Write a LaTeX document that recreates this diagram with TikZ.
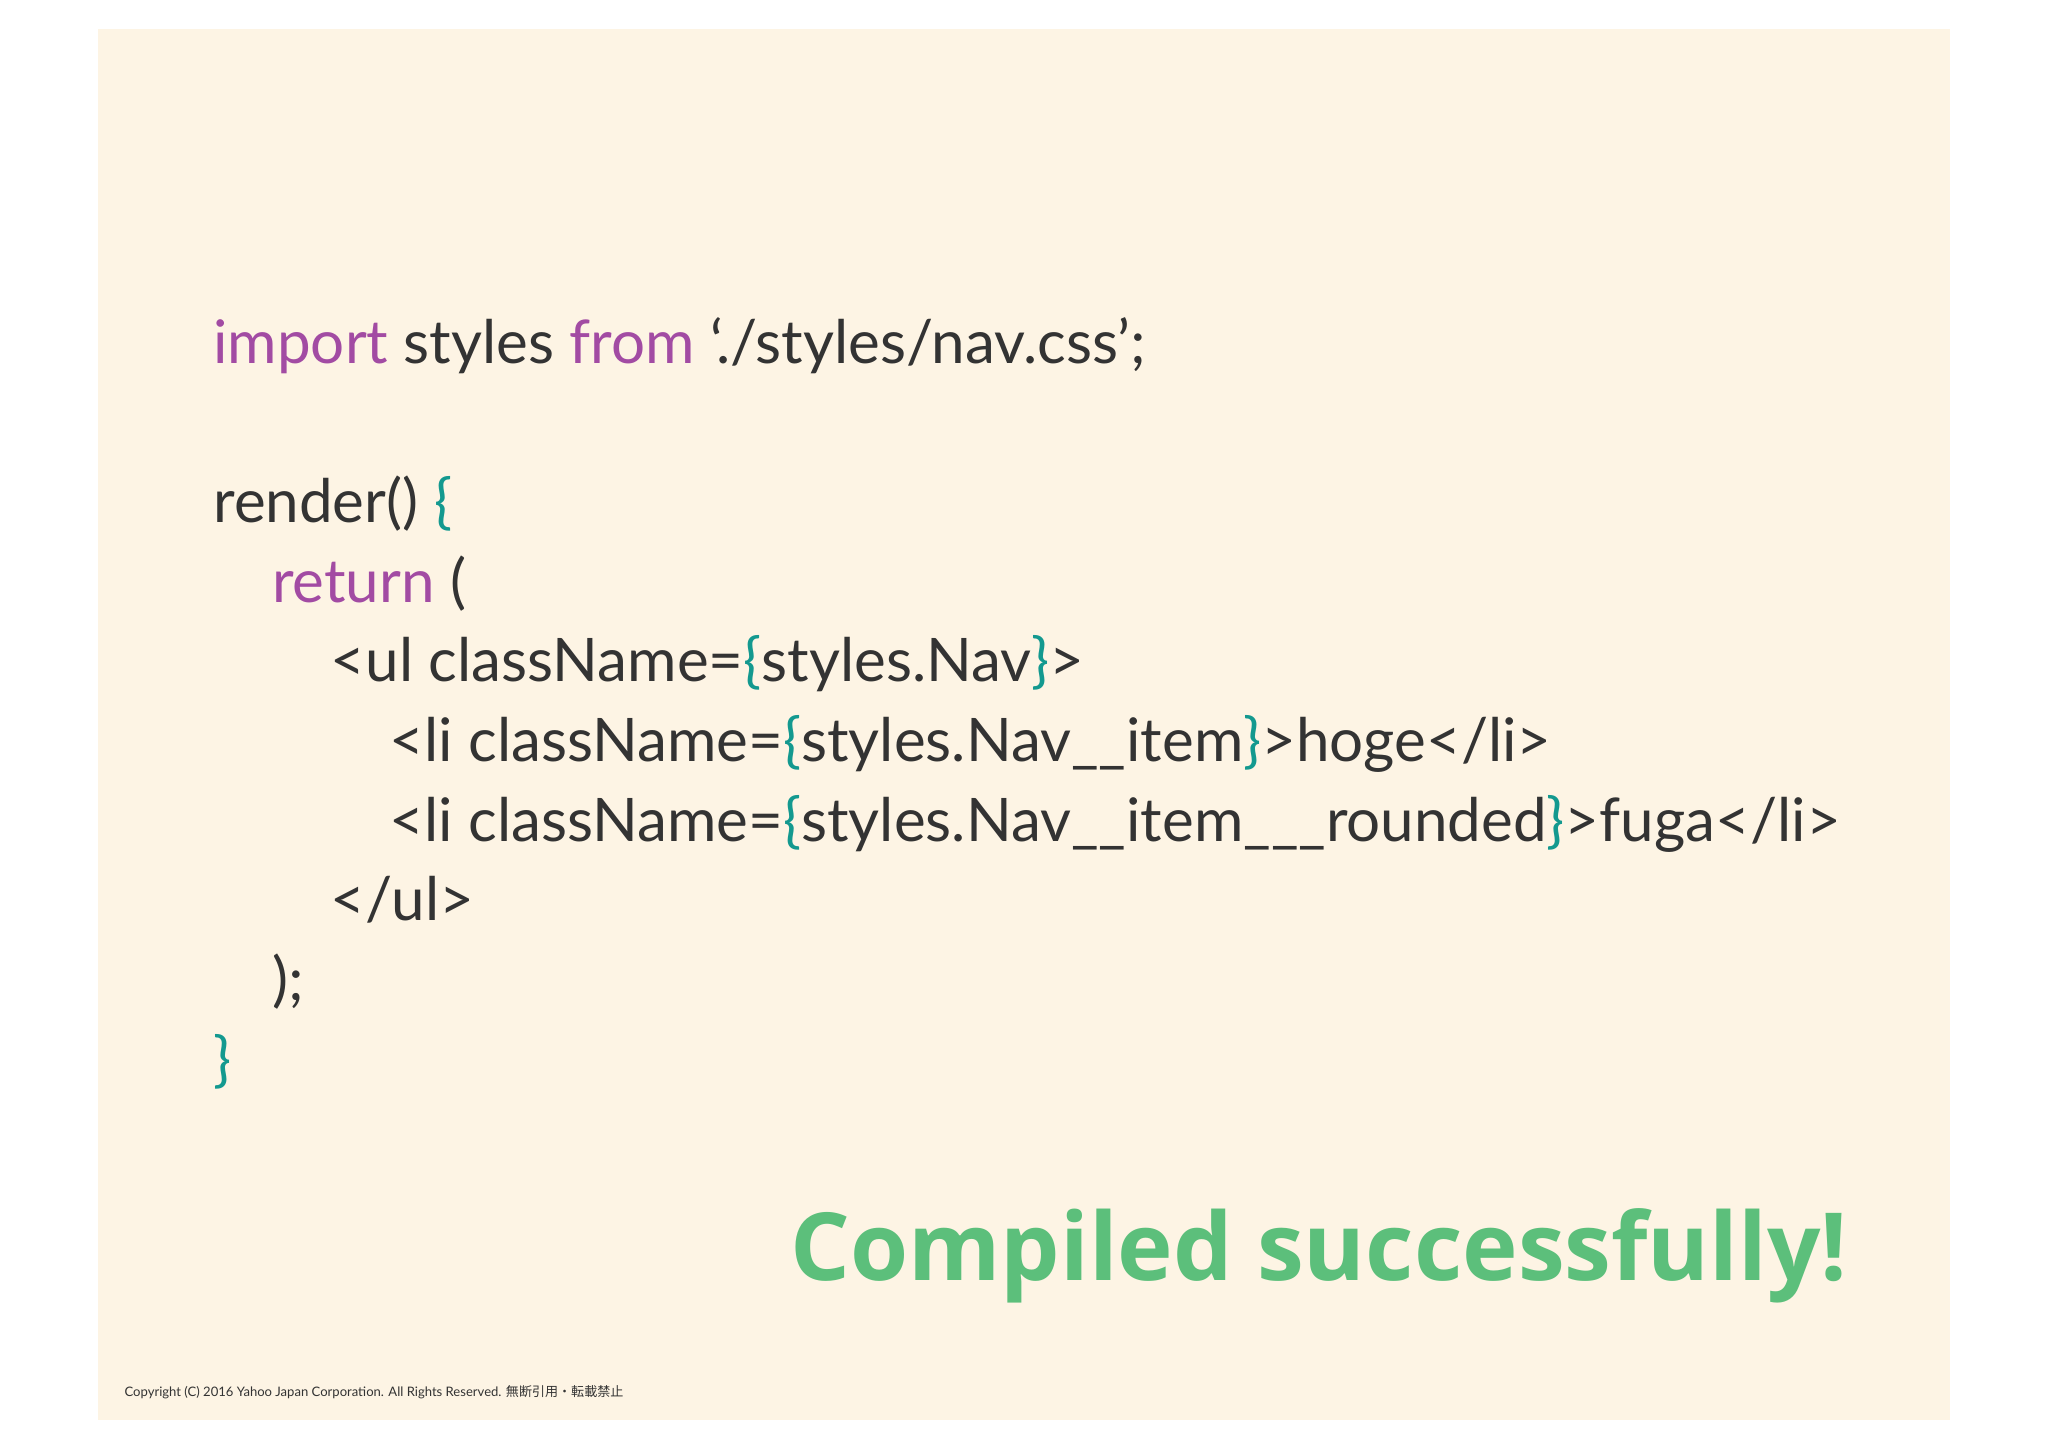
\documentclass[tikz,border=0pt]{standalone}
\usepackage{fontspec}
\setmainfont{Lato}
\newfontfamily\cjk{Noto Sans CJK JP}
\newfontfamily\ttl{Open Sans}
\definecolor{bgc}{HTML}{FDF4E4}
\definecolor{kw}{HTML}{A24BA3}
\definecolor{br}{HTML}{13998F}
\definecolor{tx}{HTML}{333333}
\definecolor{gr}{HTML}{5CBF7B}
\begin{document}
\begin{tikzpicture}[x=0.5pt,y=-0.5pt,
  code/.style={anchor=base west,inner sep=0pt,text=tx,font=\fontsize{23}{28}\selectfont}]
\useasboundingbox (0,0) rectangle (1568,1108);
\fill[white] (0,0) rectangle (1568,1108);
\fill[bgc] (75,22) rectangle (1493,1087);
\newcommand\K[1]{\textcolor{kw}{#1}}
\newcommand\B[1]{\textcolor{br}{#1}}
\node[code] (l1) at (163,278) {\K{import} styles \K{from} `./styles/nav.css';};
\node[code] (l2) at (163,400) {render() \B{\{}};
\node[code] (l3) at (208,461) {\K{return} (};
\node[code] (l4) at (253,522) {<ul className=\B{\{}styles.Nav\B{\}}>};
\node[code] (l5) at (298,583) {<li className=\B{\{}styles.Nav\_\_item\B{\}}>hoge</li>};
\node[code] (l6) at (298,644) {<li className=\B{\{}styles.Nav\_\_item\_\_\_rounded\B{\}}>fuga</li>};
\node[code] (l7) at (253,705) {</ul>};
\node[code] (l8) at (208,766) {);};
\node[code] (l9) at (163,827) {\B{\}}};
\node[anchor=base east,inner sep=0pt,text=gr,font=\ttl\bfseries\fontsize{36}{40}\selectfont] (ok) at (1415,980) {Compiled successfully!};
\node[anchor=base west,inner sep=0pt,text=tx,font=\fontsize{5}{6}\selectfont] (cp) at (95,1069) {Copyright (C) 2016 Yahoo Japan Corporation. All Rights Reserved. {\cjk 無断引用・転載禁止}};
\end{tikzpicture}
\end{document}
